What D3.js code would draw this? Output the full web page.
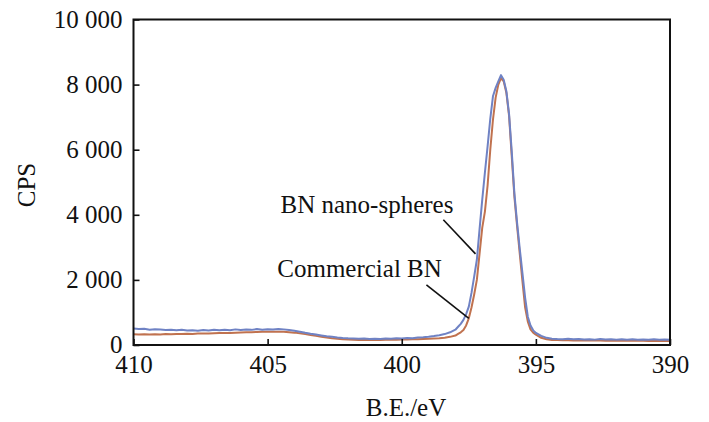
<!DOCTYPE html>
<html>
<head>
<meta charset="utf-8">
<script src="https://cdn.jsdelivr.net/npm/d3@7"></script>
<style>
  html, body { margin: 0; padding: 0; background: #fff; }
  svg { display: block; }
  text { font-family: "Liberation Serif", "Times New Roman", serif; fill: #111; }
</style>
</head>
<body>
<svg id="chart" width="709" height="422"></svg>
<script>
// ---- data (binding energy in eV, intensity in CPS) ----
const energy = [
  410.0, 409.8, 409.6, 409.4, 409.2, 409.0, 408.8, 408.6, 408.4, 408.2,
  408.0, 407.8, 407.6, 407.4, 407.2, 407.0, 406.8, 406.6, 406.4, 406.2,
  406.0, 405.8, 405.6, 405.4, 405.2, 405.0, 404.8, 404.6, 404.4, 404.2,
  404.0, 403.8, 403.6, 403.4, 403.2, 403.0, 402.8, 402.6, 402.4, 402.2,
  402.0, 401.8, 401.6, 401.4, 401.2, 401.0, 400.8, 400.6, 400.4, 400.2,
  400.0, 399.8, 399.6, 399.4, 399.2, 399.0, 398.8, 398.6, 398.4, 398.2,
  398.0,
  397.9, 397.8, 397.7, 397.6, 397.5, 397.4, 397.3, 397.2, 397.1, 397.0,
  396.9, 396.8, 396.7, 396.6, 396.5, 396.4, 396.3, 396.2, 396.1, 396.0,
  395.9, 395.8, 395.7, 395.6, 395.5, 395.4, 395.3, 395.2, 395.1, 395.0,
  394.8, 394.6, 394.4, 394.2, 394.0, 393.8, 393.6, 393.4, 393.2, 393.0,
  392.8, 392.6, 392.4, 392.2, 392.0, 391.8, 391.6, 391.4, 391.2, 391.0,
  390.8, 390.6, 390.4, 390.2, 390.0
];

const nanoSpheres = [
  510, 495, 500, 470, 485, 475, 460, 470, 450, 465,
  445, 455, 440, 460, 445, 465, 450, 470, 455, 480,
  460, 475, 465, 490, 470, 485, 475, 495, 480, 460,
  435, 410, 375, 345, 320, 295, 270, 250, 230, 215,
  205, 200, 190, 200, 185, 195, 185, 200, 190, 205,
  200, 215, 210, 230, 240, 255, 275, 300, 335, 390,
  470,
  560, 650, 770, 950, 1180, 1600, 2100, 2620, 3550, 4460,
  5300, 6100, 6950, 7640, 7900, 8100, 8290, 8150, 7800, 7100,
  5950, 4650, 3750, 2950, 2200, 1450, 870, 600, 450, 370,
  280, 220, 195, 185, 180, 190, 175, 185, 170, 180,
  165, 185, 170, 180, 165, 175, 160, 175, 165, 170,
  160, 175, 165, 170, 165
];

const commercial = [
  330, 325, 330, 320, 330, 325, 335, 330, 340, 335,
  345, 340, 350, 350, 355, 360, 365, 365, 370, 380,
  385, 390, 395, 400, 405, 405, 410, 410, 405, 395,
  380, 360, 335, 305, 280, 255, 230, 210, 195, 180,
  170, 160, 155, 150, 150, 155, 155, 160, 160, 165,
  170, 170, 175, 180, 185, 190, 200, 210, 225, 250,
  290,
  340, 390, 460, 600, 820, 1150, 1550, 2000, 2800, 3600,
  4100, 4900, 6000, 6920, 7600, 8000, 8200, 8100, 7750, 7050,
  5800, 4550, 3650, 2800, 1950, 1150, 720, 480, 380, 320,
  220, 175, 155, 150, 145, 145, 140, 140, 140, 135,
  135, 135, 130, 135, 130, 130, 130, 128, 130, 128,
  126, 128, 125, 126, 125
];

const xTicks = [410, 405, 400, 395, 390];
const yTicks = [0, 2000, 4000, 6000, 8000, 10000];

const seriesNames = ["BN nano-spheres", "Commercial BN"];
const seriesColors = ["#6f82c4", "#c0724f"];
// annotation label anchor and leader line ends, in data units (eV, CPS)
const labelPos = [[404.52, 4050], [404.64, 2100]];
const leaderStart = [[398.45, 3850], [399.08, 1850]];
const leaderEnd = [[397.25, 2800], [397.50, 815]];

const xTitle = "B.E./eV";
const yTitle = "CPS";

// ---- layout ----
const W = 709, H = 422;
const margin = { top: 19.5, right: 39, bottom: 77, left: 133.5 };
const iw = W - margin.left - margin.right;
const ih = H - margin.top - margin.bottom;

const svg = d3.select("#chart");
const g = svg.append("g").attr("transform", `translate(${margin.left},${margin.top})`);

const x = d3.scaleLinear().domain([410, 390]).range([0, iw]);
const y = d3.scaleLinear().domain([0, 10000]).range([ih, 0]);

const loc = d3.formatLocale({ decimal: ".", thousands: " ", grouping: [3], currency: ["", ""] });
const fmt = loc.format(",d");

// series lines
const series = [nanoSpheres, commercial];
const line = d3.line().x((d, i) => x(energy[i])).y(d => y(d));
[1, 0].forEach(k => {
  g.append("path")
    .datum(series[k])
    .attr("fill", "none")
    .attr("stroke", seriesColors[k])
    .attr("stroke-width", 2)
    .attr("stroke-linejoin", "round")
    .attr("d", line);
});

// axes
const xAxis = d3.axisBottom(x).tickValues(xTicks).tickFormat(d3.format("d"))
  .tickSizeInner(-6).tickSizeOuter(0).tickPadding(10);
const yAxis = d3.axisLeft(y).tickValues(yTicks).tickFormat(fmt)
  .tickSizeInner(-6).tickSizeOuter(0).tickPadding(11);

const gx = g.append("g").attr("transform", `translate(0,${ih})`).call(xAxis);
const gy = g.append("g").call(yAxis);
[gx, gy].forEach(a => {
  a.select(".domain").remove();
  a.selectAll(".tick line").attr("stroke", "#111").attr("stroke-width", 1.6);
  a.selectAll(".tick text").attr("font-size", 25)
    .attr("font-family", '"Liberation Serif", "Times New Roman", serif').attr("fill", "#111");
});
gx.selectAll(".tick text").attr("dy", "0.7em");
gy.selectAll(".tick text").attr("dy", "0.31em");

// frame
g.append("rect")
  .attr("x", 0).attr("y", 0).attr("width", iw).attr("height", ih)
  .attr("fill", "none").attr("stroke", "#111").attr("stroke-width", 2);

// annotations
seriesNames.forEach((name, k) => {
  g.append("text")
    .attr("x", x(labelPos[k][0])).attr("y", y(labelPos[k][1]))
    .attr("font-size", 25)
    .text(name);
  g.append("line")
    .attr("x1", x(leaderStart[k][0])).attr("y1", y(leaderStart[k][1]))
    .attr("x2", x(leaderEnd[k][0])).attr("y2", y(leaderEnd[k][1]))
    .attr("stroke", "#111").attr("stroke-width", 1.6);
});

// axis titles
svg.append("text")
  .attr("x", 406).attr("y", 416)
  .attr("text-anchor", "middle").attr("font-size", 25)
  .text(xTitle);
svg.append("text")
  .attr("transform", "translate(35,185) rotate(-90)")
  .attr("text-anchor", "middle").attr("font-size", 25)
  .text(yTitle);
</script>
</body>
</html>
